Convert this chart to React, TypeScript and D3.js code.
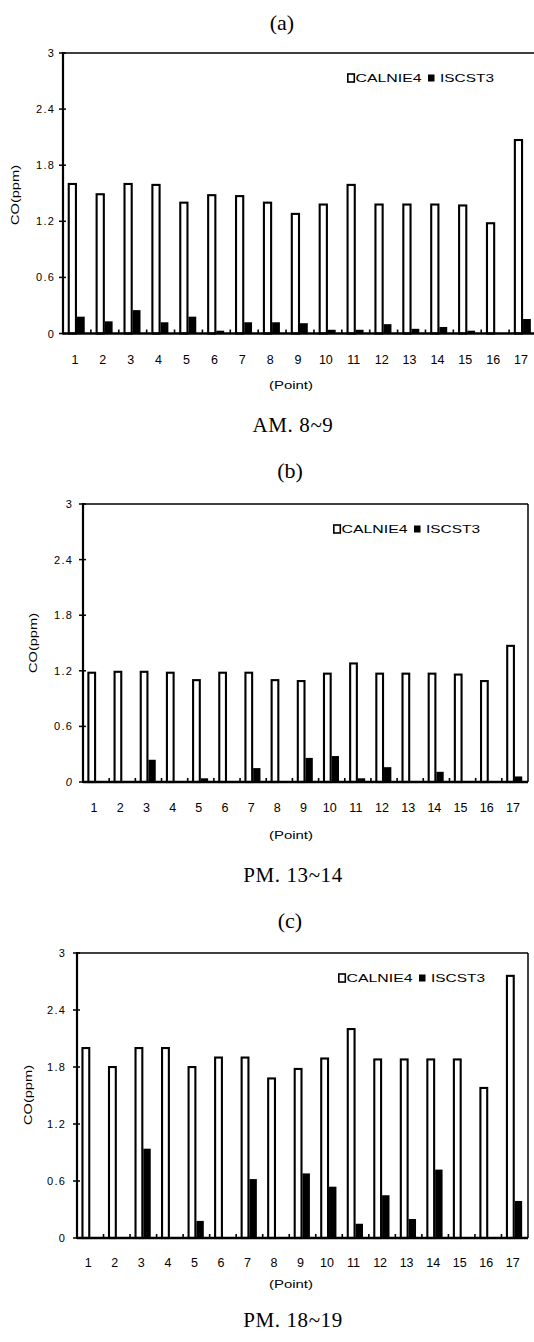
import React from 'react';
import * as d3 from 'd3';

// monitoring points and the two models
const points = ['1', '2', '3', '4', '5', '6', '7', '8', '9', '10', '11', '12', '13', '14', '15', '16', '17'];
const series = ['CALNIE4', 'ISCST3'];
const yTicks = [0, 0.6, 1.2, 1.8, 2.4, 3];

// (a) AM. 8~9
const amCalnie = [1.61, 1.5, 1.61, 1.6, 1.41, 1.49, 1.48, 1.41, 1.29, 1.39, 1.6, 1.39, 1.39, 1.39, 1.38, 1.19, 2.08];
const amIscst = [0.18, 0.13, 0.25, 0.12, 0.18, 0.03, 0.12, 0.12, 0.11, 0.04, 0.04, 0.1, 0.05, 0.07, 0.03, 0, 0.155];
// (b) PM. 13~14
const noonCalnie = [1.19, 1.2, 1.2, 1.19, 1.11, 1.19, 1.19, 1.11, 1.1, 1.18, 1.29, 1.18, 1.18, 1.18, 1.17, 1.1, 1.48];
const noonIscst = [0, 0, 0.24, 0, 0.04, 0, 0.15, 0, 0.26, 0.28, 0.04, 0.16, 0, 0.11, 0, 0, 0.06];
// (c) PM. 18~19
const eveCalnie = [2.01, 1.81, 2.01, 2.01, 1.81, 1.91, 1.91, 1.69, 1.79, 1.9, 2.21, 1.89, 1.89, 1.89, 1.89, 1.59, 2.77];
const eveIscst = [0, 0, 0.94, 0, 0.18, 0, 0.62, 0, 0.68, 0.54, 0.15, 0.45, 0.2, 0.72, 0, 0, 0.39];

const sans = '"Liberation Sans", Arial, sans-serif';
const serif = '"Liberation Serif", "Times New Roman", serif';

const panels = [
	{
		key: 'a', label: '(a)', caption: 'AM. 8~9', calnie: amCalnie, iscst: amIscst,
		left: 63, right: 537, top: 53, bottom: 333.5,
		labelX: 282, labelY: 22, tickRight: 55, xLabelY: 360, pointY: 385, captionY: 425, coX: 15, coY: 195,
		legendX: 347, zeroItalic: false
	},
	{
		key: 'b', label: '(b)', caption: 'PM. 13~14', calnie: noonCalnie, iscst: noonIscst,
		left: 83, right: 528, top: 504, bottom: 782,
		labelX: 290, labelY: 470, tickRight: 73, xLabelY: 808, pointY: 835, captionY: 875, coX: 33, coY: 643,
		legendX: 333, zeroItalic: true
	},
	{
		key: 'c', label: '(c)', caption: 'PM. 18~19', calnie: eveCalnie, iscst: eveIscst,
		left: 77, right: 528, top: 953, bottom: 1238,
		labelX: 290, labelY: 920, tickRight: 66, xLabelY: 1263, pointY: 1284, captionY: 1320, coX: 28, coY: 1095,
		legendX: 338, zeroItalic: false
	}
];

function Panel({ p }) {
	const x = d3.scaleBand().domain(points).range([p.left, p.right]);
	const inner = d3.scaleBand().domain(series).range([0, x.bandwidth()]).paddingOuter(0.7);
	const y = d3.scaleLinear().domain([0, 3]).range([p.bottom, p.top]);
	const bw = inner.bandwidth();

	return (
		<g>
			<text x={p.labelX} y={p.labelY} fontFamily={serif} fontSize={22}
				textAnchor="middle" dominantBaseline="central">{p.label}</text>

			{/* bars */}
			{points.map((pt, i) => {
				const x0 = x(pt) + inner('CALNIE4') - 1;
				const top = y(p.calnie[i]);
				return (
					<rect key={'c' + pt} x={x0 + 1} y={top + 1} width={bw - 1}
						height={Math.max(0, p.bottom - top - 1)}
						fill="#fff" stroke="#000" strokeWidth={2.1} />
				);
			})}
			{points.map((pt, i) => {
				const v = p.iscst[i];
				if (!v) return null;
				const x0 = x(pt) + inner('ISCST3');
				return (
					<rect key={'i' + pt} x={x0} y={y(v)} width={bw * 0.95}
						height={p.bottom - y(v)} fill="#000" />
				);
			})}

			{/* frame */}
			<line x1={p.left} x2={p.right} y1={p.top} y2={p.top} stroke="#000" strokeWidth={1.5} />
			<line x1={p.right} x2={p.right} y1={p.top} y2={p.bottom} stroke="#000" strokeWidth={1.5} />
			<line x1={p.left} x2={p.left} y1={p.top - 1} y2={p.bottom + 1} stroke="#000" strokeWidth={2.2} />
			<line x1={p.left} x2={p.right} y1={p.bottom} y2={p.bottom} stroke="#000" strokeWidth={2.5} />

			{/* y ticks */}
			{yTicks.map((t) => (
				<g key={'y' + t}>
					<line x1={p.left - 4} x2={p.left + 3} y1={y(t)} y2={y(t)} stroke="#000" strokeWidth={1.5} />
					<text x={p.tickRight} y={y(t)} fontFamily={sans} fontSize={11} letterSpacing={1.2}
						fontStyle={p.zeroItalic && t === 0 ? 'italic' : 'normal'}
						textAnchor="end" dominantBaseline="central">{t === 0 || t === 3 ? String(t) : t.toFixed(1)}</text>
				</g>
			))}

			{/* x ticks at category boundaries */}
			{points.slice(1).map((pt) => (
				<line key={'xt' + pt} x1={x(pt)} x2={x(pt)} y1={p.bottom} y2={p.bottom - 4}
					stroke="#000" strokeWidth={1.6} />
			))}
			{points.map((pt) => (
				<text key={'xl' + pt} x={x(pt) + x.bandwidth() / 2 - 2} y={p.xLabelY} fontFamily={sans}
					fontSize={12.5} textAnchor="middle" dominantBaseline="central">{pt}</text>
			))}

			<text x={291} y={p.pointY} fontFamily={sans} fontSize={11} textAnchor="middle"
				dominantBaseline="central" textLength={44} lengthAdjust="spacingAndGlyphs">(Point)</text>
			<text transform={`translate(${p.coX},${p.coY}) rotate(-90)`} fontFamily={sans} fontSize={11}
				textAnchor="middle" dominantBaseline="central" textLength={60}
				lengthAdjust="spacingAndGlyphs">CO(ppm)</text>

			{/* legend */}
			<g transform={`translate(${p.legendX},${p.top + 25})`}>
				<rect x={0.8} y={-4} width={6.5} height={8} fill="#fff" stroke="#000" strokeWidth={1.6} />
				<text x={8.5} y={0} fontFamily={sans} fontSize={11.5} dominantBaseline="central"
					textLength={66} lengthAdjust="spacingAndGlyphs">{series[0]}</text>
				<rect x={81} y={-3.5} width={6.5} height={7} fill="#000" />
				<text x={93} y={0} fontFamily={sans} fontSize={11.5} dominantBaseline="central"
					textLength={54} lengthAdjust="spacingAndGlyphs">{series[1]}</text>
			</g>

			<text x={293} y={p.captionY} fontFamily={serif} fontSize={21} letterSpacing={0.6}
				textAnchor="middle" dominantBaseline="central">{p.caption}</text>
		</g>
	);
}

export default function App() {
	return (
		<svg width={534} height={1342} style={{ position: 'absolute', left: 0, top: 0, background: '#fff' }}>
			<rect width={534} height={1342} fill="#fff" />
			{panels.map((p) => <Panel key={p.key} p={p} />)}
		</svg>
	);
}
